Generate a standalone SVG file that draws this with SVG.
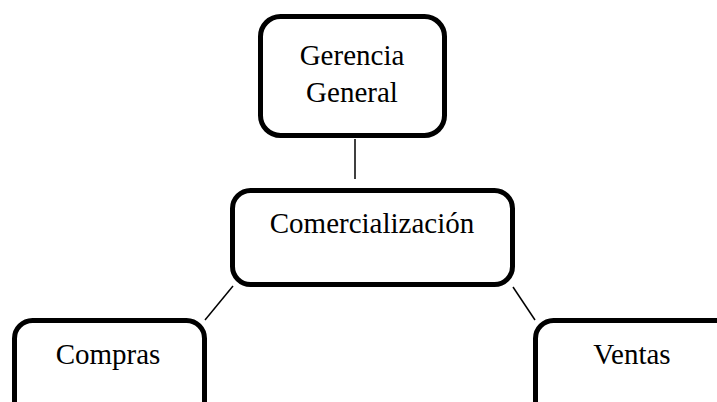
<svg xmlns="http://www.w3.org/2000/svg" width="717" height="402" viewBox="0 0 717 402">
<style>
.box{fill:#fff;stroke:#000;stroke-width:5}
.lbl{font-family:"Liberation Serif","Times New Roman",serif;font-size:29px;fill:#000;text-anchor:middle}
.conn line{stroke:#000;stroke-width:1.5}
</style>
<rect width="717" height="402" fill="#fff"/>
<g class="conn" id="connectors">
<line x1="355" y1="139" x2="355" y2="179"/>
<line x1="233" y1="286" x2="205" y2="320"/>
<line x1="513" y1="287" x2="535" y2="320"/>
</g>
<g id="gerencia">
<rect class="box" x="260.5" y="16.5" width="184" height="119" rx="20"/>
<text class="lbl" x="352" y="65">Gerencia</text>
<text class="lbl" x="352" y="102">General</text>
</g>
<g id="comercializacion">
<rect class="box" x="232.5" y="190.5" width="280" height="94" rx="18"/>
<text class="lbl" x="372" y="233">Comercialización</text>
</g>
<g id="compras">
<rect class="box" x="14.5" y="320.5" width="190" height="110" rx="18"/>
<text class="lbl" x="108" y="364">Compras</text>
</g>
<g id="ventas">
<rect class="box" x="535.5" y="320.5" width="220" height="110" rx="18"/>
<text class="lbl" x="632" y="364">Ventas</text>
</g>
</svg>
